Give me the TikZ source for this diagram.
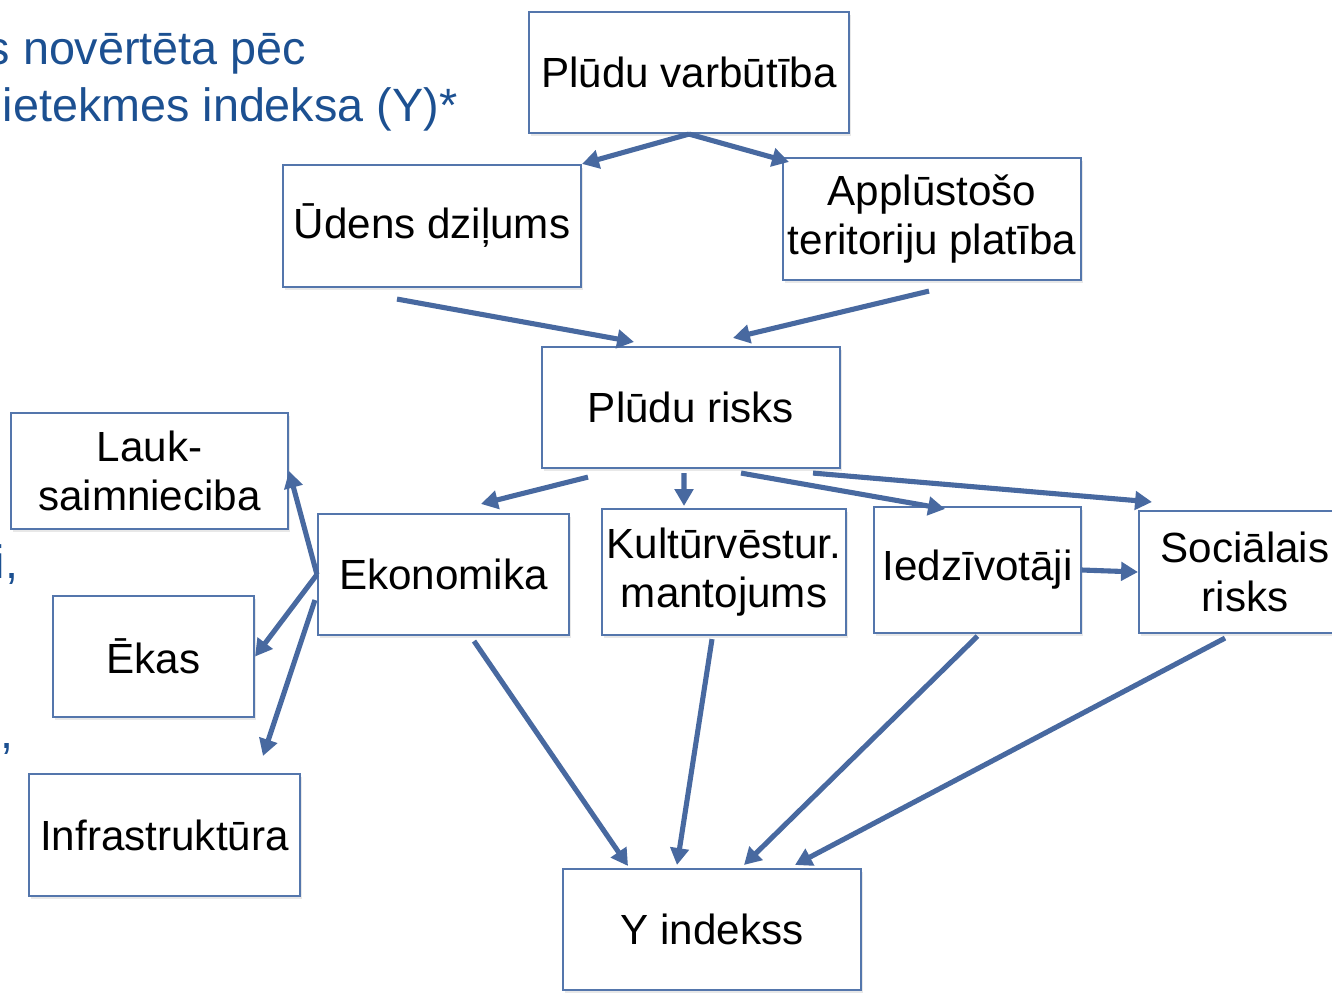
\documentclass[tikz,border=0pt]{standalone}
\usepackage{fontspec}
\setmainfont{Liberation Sans}
\usepackage{xcolor}
\usepackage{tikz}
\usetikzlibrary{arrows.meta}
\usetikzlibrary{shadows}

\definecolor{boxblue}{RGB}{84,118,172}
\definecolor{linkblue}{RGB}{72,105,160}
\definecolor{headblue}{RGB}{28,80,145}

\tikzset{
  factor/.style={draw=boxblue, line width=0.6pt, fill=white, inner sep=0pt, align=center,
    font=\fontsize{12}{14}\selectfont,
    drop shadow={shadow xshift=0.6pt, shadow yshift=-0.8pt, opacity=0.18}},
  link/.style={draw=linkblue, line width=1.45pt, -{Triangle[length=4.8pt,width=5.2pt]}},
  slide/.style={text=headblue, inner sep=0pt, font=\fontsize{13.3}{16}\selectfont}
}

\begin{document}
\begin{tikzpicture}
      \useasboundingbox (0,0) rectangle (13.32,-9.95);
      \clip (0,0) rectangle (13.32,-9.95);

      % slide text cut off on the left
      \node[slide, anchor=base east] (title1) at (3.07,-0.64) {s novērtēta pēc};
      \node[slide, anchor=base east] (title2) at (4.58,-1.21) {ietekmes indeksa (Y)*};
      \node[slide, anchor=base east] (frag1) at (0.19,-5.78) {i,};
      \node[slide, anchor=base east] (frag2) at (0.14,-7.48) {,};

      \node[factor, minimum width=3.20cm, minimum height=1.21cm] (varb) at (6.89,-0.725) {Plūdu varbūtība};
      \node[factor, minimum width=2.98cm, minimum height=1.22cm] (udens) at (4.32,-2.26) {Ūdens dziļums};
      \node[factor, minimum width=2.98cm, minimum height=1.22cm] (appl) at (9.32,-2.19) {Applūstošo\\teritoriju platība};
      \node[factor, minimum width=2.98cm, minimum height=1.21cm] (risks) at (6.91,-4.075) {Plūdu risks};
      \node[factor, minimum width=2.77cm, minimum height=1.16cm] (lauk) at (1.495,-4.71) {Lauk-\\saimnieciba};
      \node[factor, minimum width=2.51cm, minimum height=1.21cm] (ekon) at (4.435,-5.745) {Ekonomika};
      \node[factor, minimum width=2.44cm, minimum height=1.26cm] (kult) at (7.24,-5.72) {Kultūrvēstur.\\mantojums};
      \node[factor, minimum width=2.07cm, minimum height=1.26cm] (iedz) at (9.775,-5.70) {Iedzīvotāji};
      \node[factor, minimum width=2.12cm, minimum height=1.22cm] (soc) at (12.45,-5.72) {Sociālais\\risks};
      \node[factor, minimum width=2.01cm, minimum height=1.21cm] (ekas) at (1.535,-6.565) {Ēkas};
      \node[factor, minimum width=2.71cm, minimum height=1.22cm] (infra) at (1.645,-8.35) {Infrastruktūra};
      \node[factor, minimum width=2.98cm, minimum height=1.21cm] (yind) at (7.12,-9.295) {Y indekss};

      \draw[link] (varb.south) -- (udens.north east);
      \draw[link] (varb.south) -- ([shift={(0.07,-0.05)}]appl.north west);
      \draw[link] ([shift={(-0.35,-0.11)}]udens.south) -- ([shift={(-0.57,0.04)}]risks.north);
      \draw[link] ([shift={(-0.03,-0.10)}]appl.south) -- ([shift={(0.42,0.08)}]risks.north);

      \draw[link] ([shift={(-1.03,-0.08)}]risks.south) -- ([shift={(0.375,0.09)}]ekon.north);
      \draw[link] ([shift={(-0.07,-0.04)}]risks.south) -- ([shift={(-0.40,0.02)}]kult.north);
      \draw[link] ([shift={(0.50,-0.04)}]risks.south) -- ([shift={(-0.325,-0.03)}]iedz.north);
      \draw[link] ([shift={(1.22,-0.04)}]risks.south) -- ([shift={(0.14,0.08)}]soc.north west);
      \draw[link] (iedz.east) -- (soc.west);

      \draw[link] (ekon.west) -- (lauk.east);
      \draw[link] (ekon.west) -- (ekas.east);
      \draw[link] ([shift={(-0.02,-0.255)}]ekon.west) -- ([shift={(0.985,0.17)}]infra.north);

      \draw[link] ([shift={(0.305,-0.05)}]ekon.south) -- ([shift={(-0.84,0.02)}]yind.north);
      \draw[link] ([shift={(-0.12,-0.03)}]kult.south) -- ([shift={(-0.35,0.03)}]yind.north);
      \draw[link] ([shift={(0,-0.02)}]iedz.south) -- ([shift={(0.32,0.03)}]yind.north);
      \draw[link] ([shift={(-0.20,-0.04)}]soc.south) -- ([shift={(0.83,0.03)}]yind.north);

    \end{tikzpicture}
\end{document}
